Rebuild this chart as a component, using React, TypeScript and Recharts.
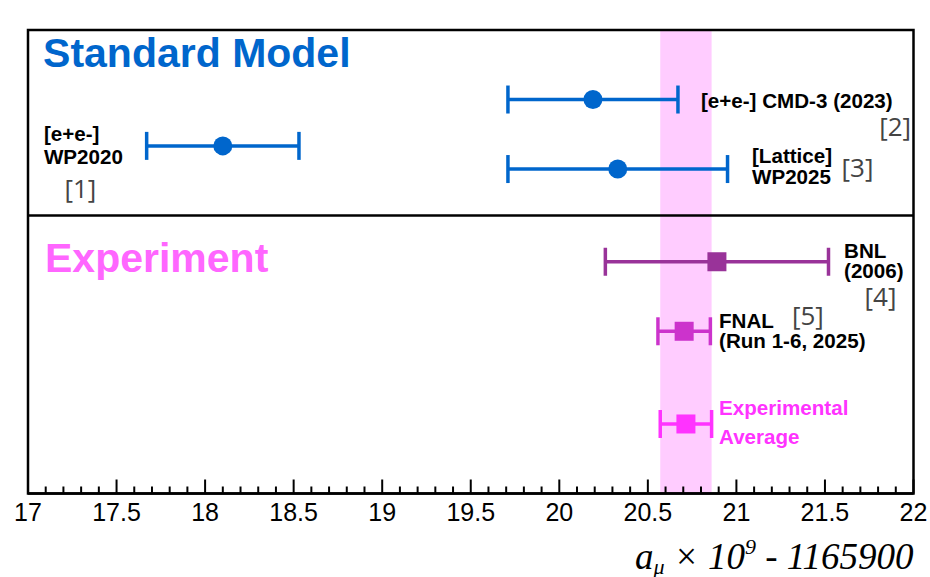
import React from 'react';
import {
  ScatterChart,
  Scatter,
  XAxis,
  YAxis,
  ErrorBar,
  ReferenceArea,
  ReferenceLine,
} from 'recharts';

// ---- data ----
const smLabels = ['[e+e-] WP2020', '[e+e-] CMD-3 (2023)', '[Lattice] WP2025'];
const smValues = [18.1, 20.19, 20.33];
const smErrors = [0.43, 0.48, 0.62];
const smRows = [7.5, 8.5, 7.0];

const expLabels = ['BNL (2006)', 'FNAL (Run 1-6, 2025)', 'Experimental Average'];
const expValues = [20.89, 20.705, 20.715];
const expErrors = [0.63, 0.148, 0.145];
const expRows = [5.0, 3.5, 1.5];

const bandRange = [20.57, 20.86];
const sectionDivider = 6;
const xDomain = [17, 22];
const yDomain = [0, 10];

const majorTicks = [17, 17.5, 18, 18.5, 19, 19.5, 20, 20.5, 21, 21.5, 22];
const minorTicks = [
  17, 17.1, 17.2, 17.3, 17.4, 17.5, 17.6, 17.7, 17.8, 17.9,
  18, 18.1, 18.2, 18.3, 18.4, 18.5, 18.6, 18.7, 18.8, 18.9,
  19, 19.1, 19.2, 19.3, 19.4, 19.5, 19.6, 19.7, 19.8, 19.9,
  20, 20.1, 20.2, 20.3, 20.4, 20.5, 20.6, 20.7, 20.8, 20.9,
  21, 21.1, 21.2, 21.3, 21.4, 21.5, 21.6, 21.7, 21.8, 21.9, 22,
];

// annotation texts (placed in data coordinates)
const annoText = [
  ['Standard Model'],
  ['Experiment'],
  ['[e+e-]', 'WP2020'],
  ['[e+e-] CMD-3 (2023)'],
  ['[Lattice]', 'WP2025'],
  ['BNL', '(2006)'],
  ['FNAL', '(Run 1-6, 2025)'],
  ['Experimental', 'Average'],
  ['[1]'],
  ['[2]'],
  ['[3]'],
  ['[4]'],
  ['[5]'],
];
const annoX = [17.085, 17.096, 17.09, 20.8, 21.088, 21.608, 20.902, 20.902, 17.296, 21.896, 21.684, 21.814, 21.404];
const annoY = [9.2, 4.78, 7.605, 8.32, 7.13, 5.081, 3.571, 1.694, 6.375, 7.713, 6.83, 4.05, 3.63];

// ---- styles ----
const SM_BLUE = '#0066cc';
const expColors = ['#993399', '#cc33cc', '#ff33ff'];
const SANS = 'Liberation Sans, Arial, sans-serif';
const REF = 'Open Sans, sans-serif';
const annoStyle = [
  { size: 41, weight: 'bold', color: SM_BLUE, gap: 0, anchor: 'start', font: SANS },
  { size: 41, weight: 'bold', color: '#ff66ff', gap: 0, anchor: 'start', font: SANS },
  { size: 20.6, weight: 'bold', color: '#000', gap: 23, anchor: 'start', font: SANS },
  { size: 20.6, weight: 'bold', color: '#000', gap: 0, anchor: 'start', font: SANS },
  { size: 20.6, weight: 'bold', color: '#000', gap: 21, anchor: 'start', font: SANS },
  { size: 20.6, weight: 'bold', color: '#000', gap: 20, anchor: 'start', font: SANS },
  { size: 20.6, weight: 'bold', color: '#000', gap: 20, anchor: 'start', font: SANS },
  { size: 20.6, weight: 'bold', color: '#ff33ff', gap: 29, anchor: 'start', font: SANS },
  { size: 26, weight: 'normal', color: '#444', gap: 0, anchor: 'middle', font: REF },
  { size: 26, weight: 'normal', color: '#444', gap: 0, anchor: 'middle', font: REF },
  { size: 26, weight: 'normal', color: '#444', gap: 0, anchor: 'middle', font: REF },
  { size: 26, weight: 'normal', color: '#444', gap: 0, anchor: 'middle', font: REF },
  { size: 26, weight: 'normal', color: '#444', gap: 0, anchor: 'middle', font: REF },
];

const smData = smValues.map((v, i) => ({ x: v, y: smRows[i], err: smErrors[i], name: smLabels[i] }));
const expData = expValues.map((v, i) => ({ x: v, y: expRows[i], err: expErrors[i], name: expLabels[i] }));
const annoData = annoText.map((lines, i) => ({ x: annoX[i], y: annoY[i], lines, style: annoStyle[i] }));

const isMajor = (v: number) => majorTicks.some((m) => Math.abs(m - v) < 1e-6);

const AxisTick = (props: any) => {
  const { x, y, payload } = props;
  const v = payload.value;
  const major = isMajor(v);
  return (
    <g>
      <line x1={x} x2={x} y1={y} y2={y - (major ? 14 : 7)} stroke="#000" strokeWidth={2} />
      {major && (
        <text x={x} y={y + 27} textAnchor="middle" fontSize={25} fontFamily={SANS} fill="#000">
          {String(v)}
        </text>
      )}
    </g>
  );
};

const circleShape = (color: string) => (p: any) => (
  <circle cx={p.cx} cy={p.cy} r={9.5} fill={color} />
);
const squareShape = (color: string) => (p: any) => (
  <rect x={p.cx - 9.5} y={p.cy - 9.5} width={19} height={19} fill={color} />
);

const annoShape = (p: any) => {
  const { cx, cy, payload } = p;
  const s = payload.style;
  return (
    <g>
      {payload.lines.map((l: string, i: number) => (
        <text
          key={i}
          x={cx}
          y={cy + i * s.gap}
          fontSize={s.size}
          fontWeight={s.weight}
          fill={s.color}
          textAnchor={s.anchor}
          fontFamily={s.font}
        >
          {l}
        </text>
      ))}
    </g>
  );
};

const AxisTitle = (props: any) => {
  const vb = props.viewBox;
  const right = vb.x + vb.width;
  const base = vb.y + 75;
  return (
    <text
      x={right}
      y={base}
      textAnchor="end"
      fontFamily="Liberation Serif, Times New Roman, serif"
      fontStyle="italic"
      fontSize={37}
      fill="#000"
    >
      a
      <tspan fontSize={22} dy={5}>μ</tspan>
      <tspan fontSize={37} dy={-5}> × 10</tspan>
      <tspan fontSize={22} dy={-15}>9</tspan>
      <tspan fontSize={37} dy={15}> - 1165900</tspan>
    </text>
  );
};

export default function App() {
  return (
    <div style={{ position: 'absolute', left: 0, top: 0, background: '#fff' }}>
      <ScatterChart
        width={930}
        height={577}
        margin={{ top: 30, right: 16.5, bottom: 43.5, left: 28 }}
      >
        <XAxis
          type="number"
          dataKey="x"
          domain={xDomain}
          ticks={minorTicks}
          interval={0}
          allowDataOverflow
          tickLine={false}
          tickSize={0}
          tickMargin={0}
          tick={AxisTick}
          height={40}
          axisLine={{ stroke: '#000', strokeWidth: 2.5 }}
          label={{ content: AxisTitle }}
        />
        <YAxis type="number" dataKey="y" domain={yDomain} hide allowDataOverflow />
        <ReferenceArea
          x1={bandRange[0]}
          x2={bandRange[1]}
          y1={yDomain[0]}
          y2={yDomain[1]}
          fill="#ffccff"
          fillOpacity={1}
          stroke="none"
        />
        <ReferenceLine y={sectionDivider} stroke="#000" strokeWidth={2.5} />
        <ReferenceArea
          x1={xDomain[0]}
          x2={xDomain[1]}
          y1={yDomain[0]}
          y2={yDomain[1]}
          fill="none"
          fillOpacity={0}
          stroke="#000"
          strokeWidth={2.5}
        />
        <Scatter data={smData} shape={circleShape(SM_BLUE)} isAnimationActive={false}>
          <ErrorBar dataKey="err" direction="x" width={14} stroke={SM_BLUE} strokeWidth={3.5} />
        </Scatter>
        {expData.map((d, i) => (
          <Scatter key={d.name} data={[d]} shape={squareShape(expColors[i])} isAnimationActive={false}>
            <ErrorBar dataKey="err" direction="x" width={14} stroke={expColors[i]} strokeWidth={3.5} />
          </Scatter>
        ))}
        <Scatter data={annoData} shape={annoShape} isAnimationActive={false} />
      </ScatterChart>
    </div>
  );
}
